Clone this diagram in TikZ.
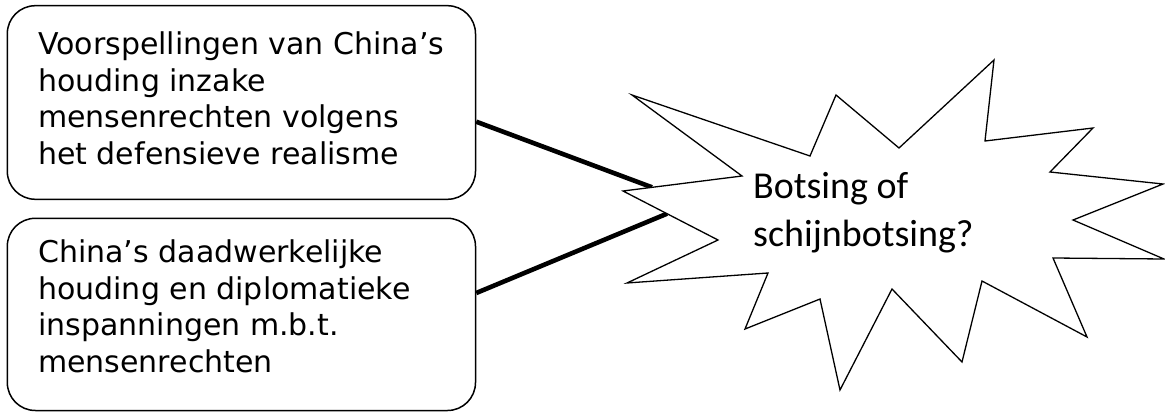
\documentclass[tikz,border=0pt]{standalone}
\usepackage{fontspec}
\usetikzlibrary{calc}
\newfontfamily\boxfont{DejaVu Sans}
\newfontfamily\burstfont{Carlito}
\begin{document}
\begin{tikzpicture}[x=1pt,y=-1pt,
  infobox/.style={draw=black, line width=1.5pt, rounded corners=28pt, fill=white, inner sep=0pt},
  boxtext/.style={anchor=north west, align=left, inner sep=0pt, font=\boxfont\fontsize{30}{36.5}\selectfont},
  bursttext/.style={anchor=north west, align=left, inner sep=0pt, font=\burstfont\fontsize{38}{48.5}\selectfont},
  burstline/.style={draw=black, line width=1.3pt, fill=white, line join=miter},
  link/.style={draw=black, line width=4.6pt}]
\useasboundingbox (0,0) rectangle (1165,414);
\fill[white] (0,0) rectangle (1165,414);
\node[infobox, minimum width=468.2pt, minimum height=193.6pt] (b1) at (241.4,102.5) {};
\node[infobox, minimum width=468.2pt, minimum height=192.2pt] (b2) at (241.4,314.4) {};
\node[boxtext] (t1) at (38,32) {Voorspellingen van China’s\\houding inzake\\mensenrechten volgens\\het defensieve realisme};
\node[boxtext] (t2) at (38,240) {China’s daadwerkelijke\\houding en diplomatieke\\inspanningen m.b.t.\\mensenrechten};
\coordinate (e1) at (652,187.3);
\coordinate (e2) at (667,213.7);
\draw[link] ($(b1.east)+(0,19.2)$) -- (e1);
\draw[link] ($(b2.east)+(0,-21.4)$) -- (e2);
\draw[burstline] (632,95) -- (810,156) -- (836,95) -- (899,148) -- (994,60) -- (985,141)
  -- (1093,128) -- (1050,172) -- (1163,184) -- (1073,220) -- (1164,259) -- (1053,258)
  -- (1087,337) -- (982,281) -- (962,362) -- (892,289) -- (840,390) -- (820,299)
  -- (745,329) -- (768,273) -- (627,283) -- (718,240) -- (623,191) -- (742,176) -- cycle;
\node[bursttext] (burst) at (753,172) {Botsing of\\schijnbotsing?};
\end{tikzpicture}
\end{document}
